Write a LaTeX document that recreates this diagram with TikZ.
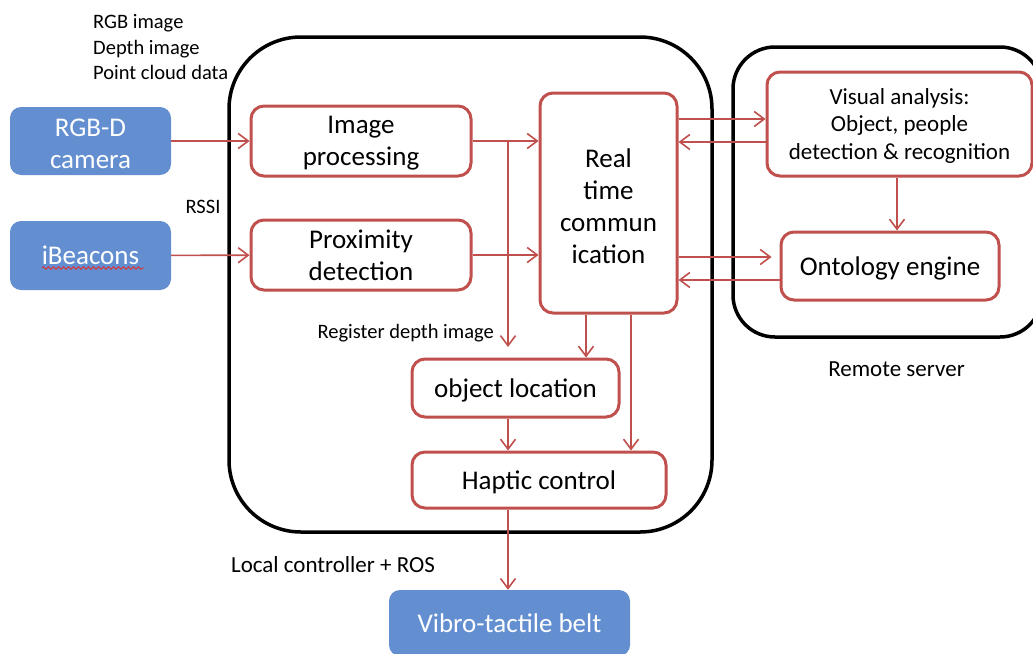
\documentclass[tikz,border=0pt]{standalone}
\usepackage{fontspec}
\setmainfont{Carlito}
\usetikzlibrary{arrows.meta,calc,decorations.pathmorphing}
\definecolor{boxred}{RGB}{192,80,77}
\definecolor{devblue}{RGB}{99,143,208}
\definecolor{spellred}{RGB}{222,48,48}
% invisible strut that raises the top of a text block
\newcommand{\topstrut}[1]{\rule{0pt}{#1}}

\begin{document}
\begin{tikzpicture}[x=1pt,y=-1pt,
  redbox/.style={draw=boxred, line width=3pt, rounded corners=13pt, fill=white,
    align=center, inner sep=0pt, text depth=0pt, font=\fontsize{27}{32}\selectfont},
  bluebox/.style={fill=devblue, rounded corners=11pt, text=white, align=center,
    inner sep=0pt, font=\fontsize{27}{32}\selectfont},
  group/.style={draw=black, line width=3.5pt, inner sep=0pt},
  conn/.style={draw=boxred, line width=1.6pt,
    -{Straight Barb[length=10pt,width=15pt,line width=1.6pt]}},
  lbl/.style={inner sep=0pt, font=\fontsize{20.5}{25.5}\selectfont},
  biglbl/.style={inner sep=0pt, font=\fontsize{23}{28}\selectfont},
]
\useasboundingbox (0,0) rectangle (1033,653);
\clip (0,0) rectangle (1033,653);
\fill[white] (0,0) rectangle (1033,653);

% enclosing groups: on-board controller and remote server
\node[group, rounded corners=72pt, minimum width=483pt, minimum height=495pt]
  (local) at (470.5,284.5) {};
\node[group, rounded corners=42pt, minimum width=309pt, minimum height=290pt]
  (remote) at (887.5,192) {};

% input and output devices
\node[bluebox, minimum width=161pt, minimum height=68pt] (cam) at (90.5,141) {\topstrut{23pt}RGB-D\\camera};
\node[bluebox, minimum width=161pt, minimum height=69pt] (beac) at (90.5,255.5) {iBeacons};
\draw[spellred, line width=0.9pt, decorate,
  decoration={snake, amplitude=1.3pt, segment length=5pt}] (42,268) -- (144,268);
\node[bluebox, minimum width=241pt, minimum height=66pt] (belt) at (509.5,623) {Vibro-tactile belt};

% processing blocks
\node[redbox, minimum width=220pt, minimum height=70pt] (imgp) at (361,141) {Image\\processing};
\node[redbox, minimum width=220pt, minimum height=70pt] (prox) at (361,255) {Proximity\\detection};
\node[redbox, minimum width=137pt, minimum height=220pt] (rtc) at (608.5,203) {\topstrut{25pt}Real\\time\\commun\\ication};
\node[redbox, minimum width=265pt, minimum height=104pt, font=\fontsize{23}{27.5}\selectfont]
  (vis) at (899.5,124) {Visual analysis:\\Object, people\\detection \& recognition};
\node[redbox, minimum width=218pt, minimum height=68pt] (onto) at (890,266) {Ontology engine};
\node[redbox, minimum width=207pt, minimum height=58pt] (objl) at (515.5,388) {object location};
\node[redbox, minimum width=254pt, minimum height=56pt] (hapt) at (539,480) {Haptic control};

% labels
\node[lbl, anchor=west, align=left] (inlbl) at (93,47.5) {RGB image\\Depth image\\Point cloud data};
\node[lbl] (rssi) at (203,207) {RSSI};
\node[lbl, anchor=east] (reglbl) at (494,333) {Register depth image};
\node[biglbl] (roslbl) at (333,565) {Local controller + ROS};
\node[biglbl] (srvlbl) at (896.5,369) {Remote server};

% connectors
\coordinate (split) at (508,141);
\coordinate (regtip) at (508,347);
\draw[conn] (cam) -- (imgp);
\draw[conn] (beac) -- (prox);
\draw[conn] (imgp.east) -- (imgp.east -| rtc.west);
\draw[conn] (prox.east) -- (prox.east -| rtc.west);
\draw[conn] (split) -- (regtip);
\draw[conn] (rtc.east |- 0,119) -- (vis.west |- 0,119);
\draw[conn] (vis.west |- 0,142) -- (rtc.east |- 0,142);
\draw[conn, shorten >=8pt] (rtc.east |- 0,257) -- (onto.west |- 0,257);
\draw[conn] (onto.west |- 0,280) -- (rtc.east |- 0,280);
\draw[conn] (vis.south -| 897,0) -- (onto.north -| 897,0);
\draw[conn] (rtc.south -| 586,0) -- (objl.north -| 586,0);
\draw[conn] (rtc.south -| 631,0) -- (hapt.north -| 631,0);
\draw[conn] (objl.south -| 508,0) -- (hapt.north -| 508,0);
\draw[conn] (hapt.south -| 508,0) -- (belt.north -| 508,0);
\end{tikzpicture}
\end{document}
